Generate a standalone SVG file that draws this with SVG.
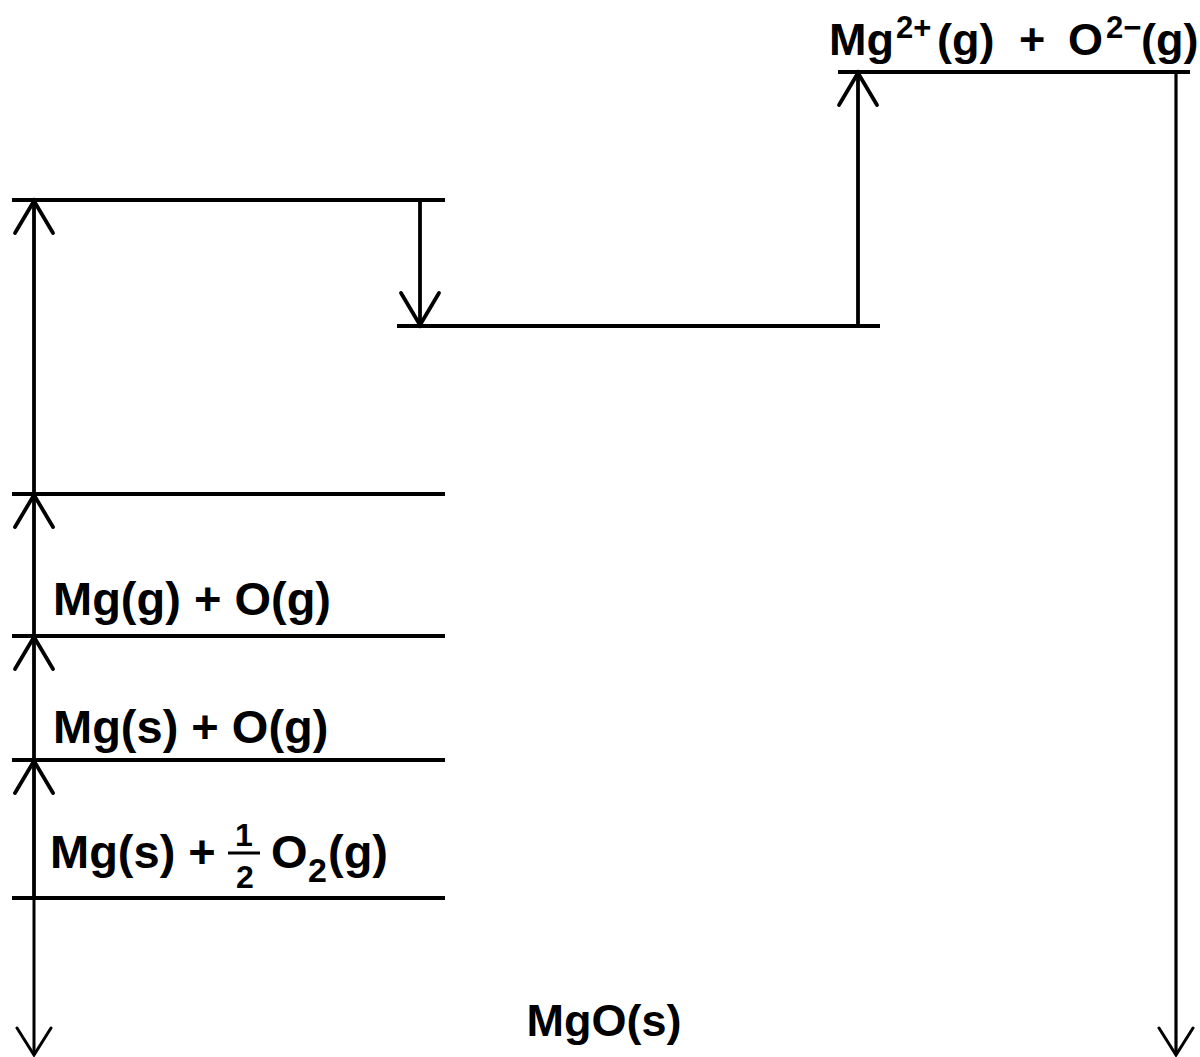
<svg xmlns="http://www.w3.org/2000/svg" width="1200" height="1057" viewBox="0 0 1200 1057">
<style>
.ln{stroke:#000;stroke-width:3.8;fill:none;stroke-linecap:butt}
.ah{stroke:#000;stroke-width:3.8;fill:none;stroke-linejoin:miter;stroke-linecap:round}
.ah2{stroke:#000;stroke-width:3;fill:none;stroke-linecap:round}
.t{font-family:"Liberation Sans",Arial,sans-serif;font-weight:bold;fill:#000}
</style>
<rect width="1200" height="1057" fill="#fff"/>
<g id="levels">
<g id="level-top"><line class="ln" x1="838" y1="72" x2="1190" y2="72"/>
<text class="t" font-size="45" y="55"><tspan x="829">Mg</tspan><tspan x="896" y="38" font-size="31">2+</tspan><tspan x="937" y="55">(g)</tspan><tspan x="1019">+</tspan><tspan x="1068">O</tspan><tspan x="1106" y="38" font-size="31">2−</tspan><tspan x="1141" y="55">(g)</tspan></text></g>
<g id="level-1"><line class="ln" x1="12" y1="200" x2="445" y2="200"/></g>
<g id="level-2"><line class="ln" x1="397" y1="326" x2="880" y2="326"/></g>
<g id="level-3"><line class="ln" x1="12" y1="494" x2="445" y2="494"/></g>
<g id="level-4"><line class="ln" x1="12" y1="636" x2="445" y2="636"/>
<text class="t" font-size="47" x="53" y="615">Mg(g) + O(g)</text></g>
<g id="level-5"><line class="ln" x1="12" y1="760" x2="445" y2="760"/>
<text class="t" font-size="47" x="53" y="743">Mg(s) + O(g)</text></g>
<g id="level-6"><line class="ln" x1="12" y1="898" x2="445" y2="898"/>
<text class="t" font-size="47" x="50" y="868">Mg(s) +</text>
<text class="t" font-size="32" x="244" y="846" text-anchor="middle">1</text>
<line x1="228" y1="853" x2="260" y2="853" stroke="#000" stroke-width="3"/>
<text class="t" font-size="32" x="245" y="888" text-anchor="middle">2</text>
<text class="t" font-size="47" y="868"><tspan x="271">O</tspan><tspan x="308" y="882" font-size="34">2</tspan><tspan x="328" y="868">(g)</tspan></text></g>
<g id="level-bottom"><text class="t" font-size="45" x="604" y="1036" text-anchor="middle">MgO(s)</text></g>
</g>
<g id="connectors">
<line class="ln" x1="34" y1="200" x2="34" y2="898"/>
<polyline class="ah" points="15,233 34,201 53,233"/>
<polyline class="ah" points="15,527 34,495 53,527"/>
<polyline class="ah" points="15,669 34,637 53,669"/>
<polyline class="ah" points="15,793 34,761 53,793"/>
<line x1="34" y1="898" x2="34" y2="1055" stroke="#000" stroke-width="3"/>
<polyline class="ah2" points="17,1028 34,1055 51,1028"/>
<line class="ln" x1="420" y1="200" x2="420" y2="325"/>
<polyline class="ah" points="401,293 420,325 439,293"/>
<line class="ln" x1="858" y1="326" x2="858" y2="73"/>
<polyline class="ah" points="839,105 858,73 877,105"/>
<line x1="1176" y1="72" x2="1176" y2="1055" stroke="#000" stroke-width="3.2"/>
<polyline class="ah2" points="1159,1028 1176,1055 1193,1028"/>
</g>
</svg>
